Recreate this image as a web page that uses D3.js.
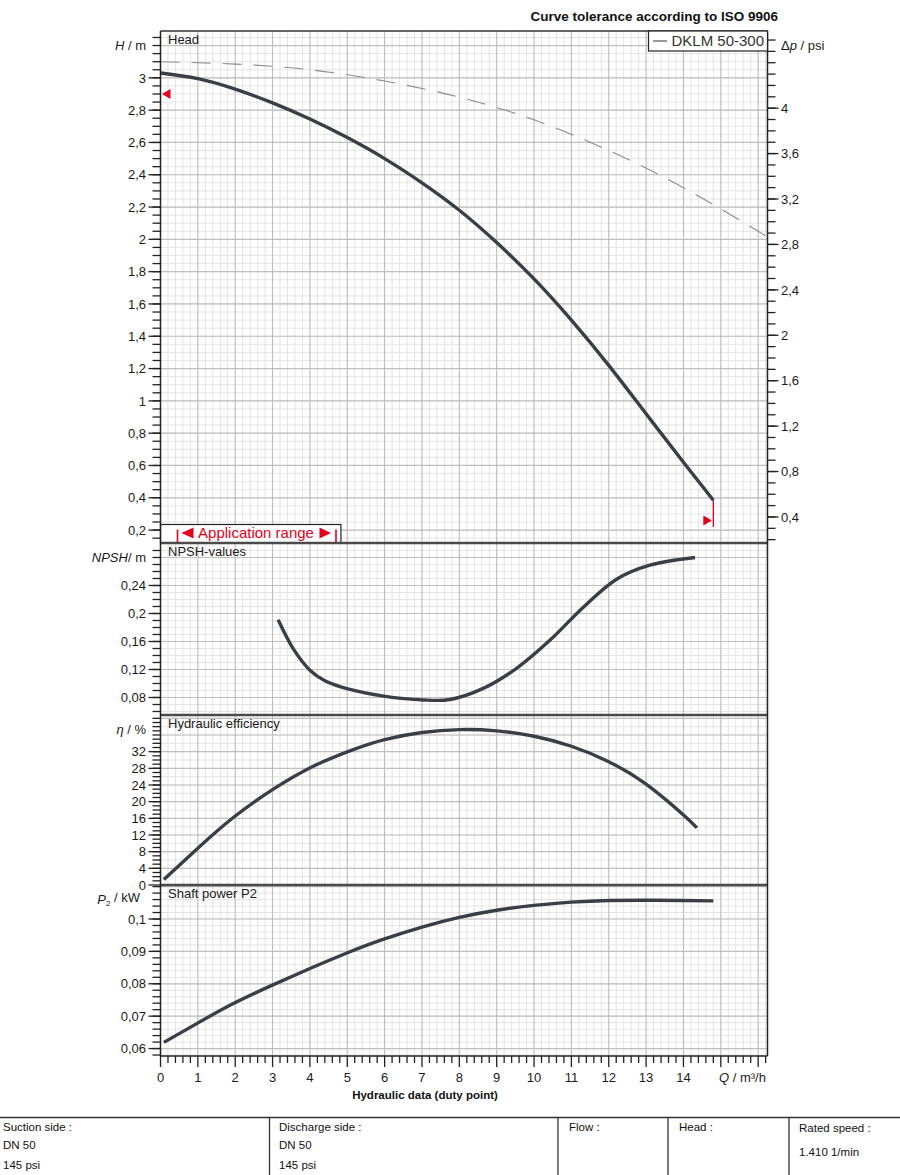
<!DOCTYPE html>
<html><head><meta charset="utf-8">
<script src="https://cdn.jsdelivr.net/npm/d3@7"></script>
<style>
body{margin:0;background:#fff}
svg{display:block;font-family:"Liberation Sans",Arial,Helvetica,sans-serif}
</style>
</head><body>
<svg id="c" width="900" height="1175"></svg>
<script>
// ---------- DATA ----------
const headQ = [0, 1, 2, 3, 4, 5, 6, 7, 8, 9, 10, 11, 12, 13, 14, 14.8];
const headH = [3.03, 2.995, 2.93, 2.845, 2.745, 2.63, 2.50, 2.35, 2.18, 1.98, 1.755, 1.50, 1.22, 0.92, 0.62, 0.385];
const tolQ = [0, 2, 4, 6, 8, 10, 12, 14, 16, 16.25];
const tolH = [3.10, 3.085, 3.05, 2.98, 2.88, 2.74, 2.55, 2.32, 2.05, 2.015];
const npshQ = [3.15, 3.56, 4.0, 4.4, 5.07, 5.97, 7.04, 7.75, 8.64, 9.54, 10.43, 11.32, 12.21, 13.1, 14.31];
const npshV = [0.191, 0.149, 0.119, 0.104, 0.0915, 0.082, 0.0765, 0.0772, 0.093, 0.122, 0.162, 0.209, 0.249, 0.269, 0.28];
const effQ = [0.09, 0.97, 1.95, 3.02, 4.09, 5.16, 6, 7, 8, 9, 10, 11, 12, 13, 14, 14.36];
const effV = [1.3, 8.6, 16.2, 23.0, 28.5, 32.5, 34.9, 36.6, 37.3, 37.0, 35.7, 33.3, 29.6, 24.2, 16.8, 13.7];
const powQ = [0.09, 0.97, 1.95, 2.98, 4.0, 4.99, 5.88, 7, 8, 9, 10, 11, 12, 13, 14, 14.8];
const powV = [0.0619, 0.0677, 0.0739, 0.0795, 0.0847, 0.0895, 0.0934, 0.0975, 0.1005, 0.1027, 0.1042, 0.1052, 0.1057, 0.1058, 0.1057, 0.1056];

const xTickVals = [0,1,2,3,4,5,6,7,8,9,10,11,12,13,14];
const xTickLabels = ["0","1","2","3","4","5","6","7","8","9","10","11","12","13","14"];
const headTickVals = [0.2,0.4,0.6,0.8,1.0,1.2,1.4,1.6,1.8,2.0,2.2,2.4,2.6,2.8,3.0];
const headTickLabels = ["0,2","0,4","0,6","0,8","1","1,2","1,4","1,6","1,8","2","2,2","2,4","2,6","2,8","3"];
const psiTickVals = [0.4,0.8,1.2,1.6,2.0,2.4,2.8,3.2,3.6,4.0];
const psiTickLabels = ["0,4","0,8","1,2","1,6","2","2,4","2,8","3,2","3,6","4"];
const npshTickVals = [0.08,0.12,0.16,0.2,0.24];
const npshTickLabels = ["0,08","0,12","0,16","0,2","0,24"];
const effTickVals = [0,4,8,12,16,20,24,28,32];
const effTickLabels = ["0","4","8","12","16","20","24","28","32"];
const powTickVals = [0.06,0.07,0.08,0.09,0.1];
const powTickLabels = ["0,06","0,07","0,08","0,09","0,1"];
const dutyH = 2.9;          // red marker on head axis
const appRange = [0, 4.83]; // application range box (Q)
const M_PER_PSI = 0.70307;

// ---------- LAYOUT ----------
const svg = d3.select("#c");
const X0 = 160.5, X1 = 767.5;
const x = d3.scaleLinear().domain([0, 16.25]).range([X0, X1]);
const RED = "#e2001a", CURVE = "#3a3e46";

const rng = (a, b, s) => d3.range(Math.round(a / s), Math.round(b / s) + 1).map(i => +(i * s).toFixed(6));

const panels = [
  {key:"head", title:"Head", top:31, bot:543, dom:[0.12, 3.29], major:0.2, gridMinor:0.05, tickMinor:0.05,
   tv:headTickVals, tl:headTickLabels},
  {key:"npsh", title:"NPSH-values", top:543, bot:715, dom:[0.055, 0.3007], major:0.04, gridMinor:0.01, tickMinor:0.01,
   tv:npshTickVals, tl:npshTickLabels},
  {key:"eff", title:"Hydraulic efficiency", top:715, bot:885, dom:[0, 40.8], major:4, gridMinor:2, tickMinor:1,
   tv:effTickVals, tl:effTickLabels},
  {key:"pow", title:"Shaft power P2", top:885, bot:1056, dom:[0.0577, 0.1105], major:0.01, gridMinor:0.002, tickMinor:0.002,
   tv:powTickVals, tl:powTickLabels}
];
panels.forEach(p => p.y = d3.scaleLinear().domain(p.dom).range([p.bot, p.top]));

const grid = svg.append("g");
const xMinor = rng(0, 16.2, 0.2);
panels.forEach(p => {
  const g = grid.append("g");
  rng(Math.ceil(p.dom[0] / p.gridMinor) * p.gridMinor, p.dom[1], p.gridMinor).forEach(v => {
    const yy = p.y(v); if (yy <= p.top + 0.5 || yy >= p.bot - 0.5) return;
    g.append("line").attr("x1", X0).attr("x2", X1).attr("y1", yy).attr("y2", yy).attr("stroke", "#e4e4e4").attr("stroke-width", 1);
  });
  xMinor.forEach(v => {
    if (Math.abs(v - Math.round(v)) < 1e-6) return;
    g.append("line").attr("x1", x(v)).attr("x2", x(v)).attr("y1", p.top).attr("y2", p.bot).attr("stroke", "#e4e4e4").attr("stroke-width", 1);
  });
  rng(Math.ceil(p.dom[0] / p.major - 1e-9) * p.major, p.dom[1], p.major).forEach(v => {
    const yy = p.y(v); if (yy <= p.top + 0.5 || yy >= p.bot - 0.5) return;
    g.append("line").attr("x1", X0).attr("x2", X1).attr("y1", yy).attr("y2", yy).attr("stroke", "#bfbfbf").attr("stroke-width", 1.2);
  });
  d3.range(1, 17).forEach(v => {
    g.append("line").attr("x1", x(v)).attr("x2", x(v)).attr("y1", p.top).attr("y2", p.bot).attr("stroke", "#bfbfbf").attr("stroke-width", 1.2);
  });
});

// ---------- AXES / TICKS ----------
const ax = svg.append("g").attr("font-size", 13).attr("fill", "#1a1a1a");
panels.forEach(p => {
  rng(Math.ceil(p.dom[0] / p.tickMinor - 1e-9) * p.tickMinor, p.dom[1], p.tickMinor).forEach(v => {
    const yy = p.y(v); if (yy < p.top + 1 || yy > p.bot - 0.5) return;
    ax.append("line").attr("x1", X0 - 8).attr("x2", X0).attr("y1", yy).attr("y2", yy).attr("stroke", "#222").attr("stroke-width", 1.3);
  });
  p.tv.forEach((v, i) => {
    const yy = p.y(v);
    ax.append("line").attr("x1", X0 - 12).attr("x2", X0).attr("y1", yy).attr("y2", yy).attr("stroke", "#222").attr("stroke-width", 1.3);
    ax.append("text").attr("x", 146).attr("y", yy).attr("dy", "0.36em").attr("text-anchor", "end").text(p.tl[i]);
  });
  svg.append("text").attr("x", 168).attr("y", p.top + 12.5).attr("font-size", 13).attr("fill", "#1a1a1a").text(p.title);
});

const uh = ax.append("text").attr("x", 146).attr("y", 31 + 14).attr("dy", "0.36em").attr("text-anchor", "end");
uh.append("tspan").attr("font-style", "italic").text("H");
uh.append("tspan").text(" / m");
const un = ax.append("text").attr("x", 146).attr("y", 543 + 14).attr("dy", "0.36em").attr("text-anchor", "end");
un.append("tspan").attr("font-style", "italic").text("NPSH");
un.append("tspan").text("/ m");
const ue = ax.append("text").attr("x", 146).attr("y", 715 + 14).attr("dy", "0.36em").attr("text-anchor", "end");
ue.append("tspan").attr("font-style", "italic").text("η");
ue.append("tspan").text(" / %");
const up = ax.append("text").attr("x", 140).attr("y", 885 + 14).attr("dy", "0.36em").attr("text-anchor", "end");
up.append("tspan").attr("font-style", "italic").text("P");
up.append("tspan").attr("font-size", 8).attr("dy", "0.3em").text("2");
up.append("tspan").attr("dy", "-0.3em").text(" / kW");

const hp = panels[0];
const yPsi = v => hp.y(v * M_PER_PSI);
rng(0.2, 4.6, 0.1).forEach(v => {
  const yy = yPsi(v); if (yy < hp.top + 1 || yy > hp.bot - 1) return;
  ax.append("line").attr("x1", X1).attr("x2", X1 + 8).attr("y1", yy).attr("y2", yy).attr("stroke", "#222").attr("stroke-width", 1.3);
});
psiTickVals.forEach((v, i) => {
  const yy = yPsi(v);
  ax.append("line").attr("x1", X1).attr("x2", X1 + 11).attr("y1", yy).attr("y2", yy).attr("stroke", "#222").attr("stroke-width", 1.3);
  ax.append("text").attr("x", 781).attr("y", yy).attr("dy", "0.36em").text(psiTickLabels[i]);
});
const ur = ax.append("text").attr("x", 781).attr("y", 31 + 14).attr("dy", "0.36em");
ur.append("tspan").text("Δ");
ur.append("tspan").attr("font-style", "italic").text("p");
ur.append("tspan").text(" / psi");

xMinor.forEach(v => {
  const isMaj = Math.abs(v - Math.round(v)) < 1e-6;
  ax.append("line").attr("x1", x(v)).attr("x2", x(v)).attr("y1", 1056).attr("y2", isMaj ? 1067 : 1063)
    .attr("stroke", "#222").attr("stroke-width", 1.3);
});
xTickVals.forEach((v, i) => {
  ax.append("text").attr("x", x(v)).attr("y", 1077).attr("dy", "0.36em").attr("text-anchor", "middle").text(xTickLabels[i]);
});
const uq = ax.append("text").attr("x", 719).attr("y", 1077).attr("dy", "0.36em");
uq.append("tspan").attr("font-style", "italic").text("Q");
uq.append("tspan").text(" / m³/h");
svg.append("text").attr("x", 425).attr("y", 1095).attr("dy", "0.36em").attr("text-anchor", "middle")
  .attr("font-size", 11.5).attr("font-weight", "bold").attr("fill", "#111").text("Hydraulic data (duty point)");

// ---------- CURVES ----------
const mk = (p, Q, V, c) => d3.line().x((d, i) => x(Q[i])).y(d => p.y(d)).curve(c || d3.curveNatural)(V);
svg.append("path").attr("d", mk(panels[0], tolQ, tolH)).attr("fill", "none").attr("stroke", "#8c8c8c")
  .attr("stroke-width", 1.1).attr("stroke-dasharray", "19 12");
svg.append("path").attr("d", mk(panels[0], headQ, headH)).attr("fill", "none").attr("stroke", CURVE).attr("stroke-width", 3.4);
svg.append("path").attr("d", mk(panels[1], npshQ, npshV, d3.curveCatmullRom.alpha(0.5))).attr("fill", "none").attr("stroke", CURVE).attr("stroke-width", 3.4);
svg.append("path").attr("d", mk(panels[2], effQ, effV)).attr("fill", "none").attr("stroke", CURVE).attr("stroke-width", 3.4);
svg.append("path").attr("d", mk(panels[3], powQ, powV)).attr("fill", "none").attr("stroke", CURVE).attr("stroke-width", 3.4);

// ---------- RED MARKERS ----------
const yD = hp.y(dutyH);
svg.append("path").attr("d", `M${X0 + 1.5},${yD} L${X0 + 10},${yD - 5} L${X0 + 10},${yD + 5} Z`).attr("fill", RED);
const qEnd = headQ[headQ.length - 1], hEnd = headH[headH.length - 1];
const xe = x(qEnd);
svg.append("line").attr("x1", xe).attr("x2", xe).attr("y1", hp.y(hEnd)).attr("y2", 527).attr("stroke", RED).attr("stroke-width", 1.3);
svg.append("path").attr("d", `M${xe - 1.5},520.5 L${xe - 10},515.5 L${xe - 10},525.5 Z`).attr("fill", RED);

const ab = svg.append("g");
ab.append("rect").attr("x", x(appRange[0])).attr("y", 524.5).attr("width", x(appRange[1]) - x(appRange[0])).attr("height", 18.5)
  .attr("fill", "#fff").attr("stroke", "#222").attr("stroke-width", 1.2);
ab.append("line").attr("x1", 177.5).attr("x2", 177.5).attr("y1", 529.5).attr("y2", 542.5).attr("stroke", RED).attr("stroke-width", 1.6);
ab.append("line").attr("x1", 336).attr("x2", 336).attr("y1", 529.5).attr("y2", 542.5).attr("stroke", RED).attr("stroke-width", 1.6);
ab.append("path").attr("d", "M181.5,533 L193.5,527.5 L193.5,538.5 Z").attr("fill", RED);
ab.append("path").attr("d", "M331,533 L319.5,527.5 L319.5,538.5 Z").attr("fill", RED);
ab.append("text").attr("x", 256).attr("y", 533).attr("dy", "0.36em").attr("text-anchor", "middle")
  .attr("font-size", 15).attr("fill", RED).text("Application range");

// ---------- FRAME ----------
svg.append("line").attr("x1", X0).attr("x2", X1).attr("y1", 31).attr("y2", 31).attr("stroke", "#333").attr("stroke-width", 1.4);
[543, 715, 885].forEach(yy => svg.append("line").attr("x1", X0).attr("x2", X1).attr("y1", yy).attr("y2", yy)
  .attr("stroke", "#4a4a4a").attr("stroke-width", 2.6));
svg.append("line").attr("x1", X0).attr("x2", X1).attr("y1", 1056).attr("y2", 1056).attr("stroke", "#222").attr("stroke-width", 1.4);
svg.append("line").attr("x1", X0).attr("x2", X0).attr("y1", 31).attr("y2", 1056).attr("stroke", "#222").attr("stroke-width", 1.5);
svg.append("line").attr("x1", X1).attr("x2", X1).attr("y1", 31).attr("y2", 1056).attr("stroke", "#222").attr("stroke-width", 1.5);

svg.append("rect").attr("x", 648.5).attr("y", 31).attr("width", X1 - 648.5).attr("height", 20)
  .attr("fill", "#fff").attr("stroke", "#222").attr("stroke-width", 1.2);
svg.append("line").attr("x1", 653).attr("x2", 667).attr("y1", 41).attr("y2", 41).attr("stroke", "#555").attr("stroke-width", 1.2);
svg.append("text").attr("x", 671.5).attr("y", 41).attr("dy", "0.36em").attr("font-size", 15).attr("fill", "#333").text("DKLM 50-300");

svg.append("text").attr("x", 778).attr("y", 16).attr("dy", "0.36em").attr("text-anchor", "end")
  .attr("font-size", 13.5).attr("font-weight", "bold").attr("fill", "#111").text("Curve tolerance according to ISO 9906");

// ---------- FOOTER TABLE ----------
const ft = svg.append("g").attr("font-size", 11.5).attr("fill", "#111");
svg.append("line").attr("x1", 0).attr("x2", 900).attr("y1", 1117.5).attr("y2", 1117.5).attr("stroke", "#333").attr("stroke-width", 1.5);
[269.5, 558, 668, 789].forEach(xx => svg.append("line").attr("x1", xx).attr("x2", xx).attr("y1", 1117.5).attr("y2", 1175)
  .attr("stroke", "#333").attr("stroke-width", 1.3));
const footer = [
  [3, 1127, "Suction side :"], [3, 1145, "DN 50"], [3, 1165, "145 psi"],
  [279, 1127, "Discharge side :"], [279, 1145, "DN 50"], [279, 1165, "145 psi"],
  [569, 1127, "Flow :"], [679, 1127, "Head :"],
  [799, 1128, "Rated speed :"], [799, 1152, "1.410 1/min"]
];
footer.forEach(f => ft.append("text").attr("x", f[0]).attr("y", f[1]).attr("dy", "0.36em").text(f[2]));
</script>
</body></html>
